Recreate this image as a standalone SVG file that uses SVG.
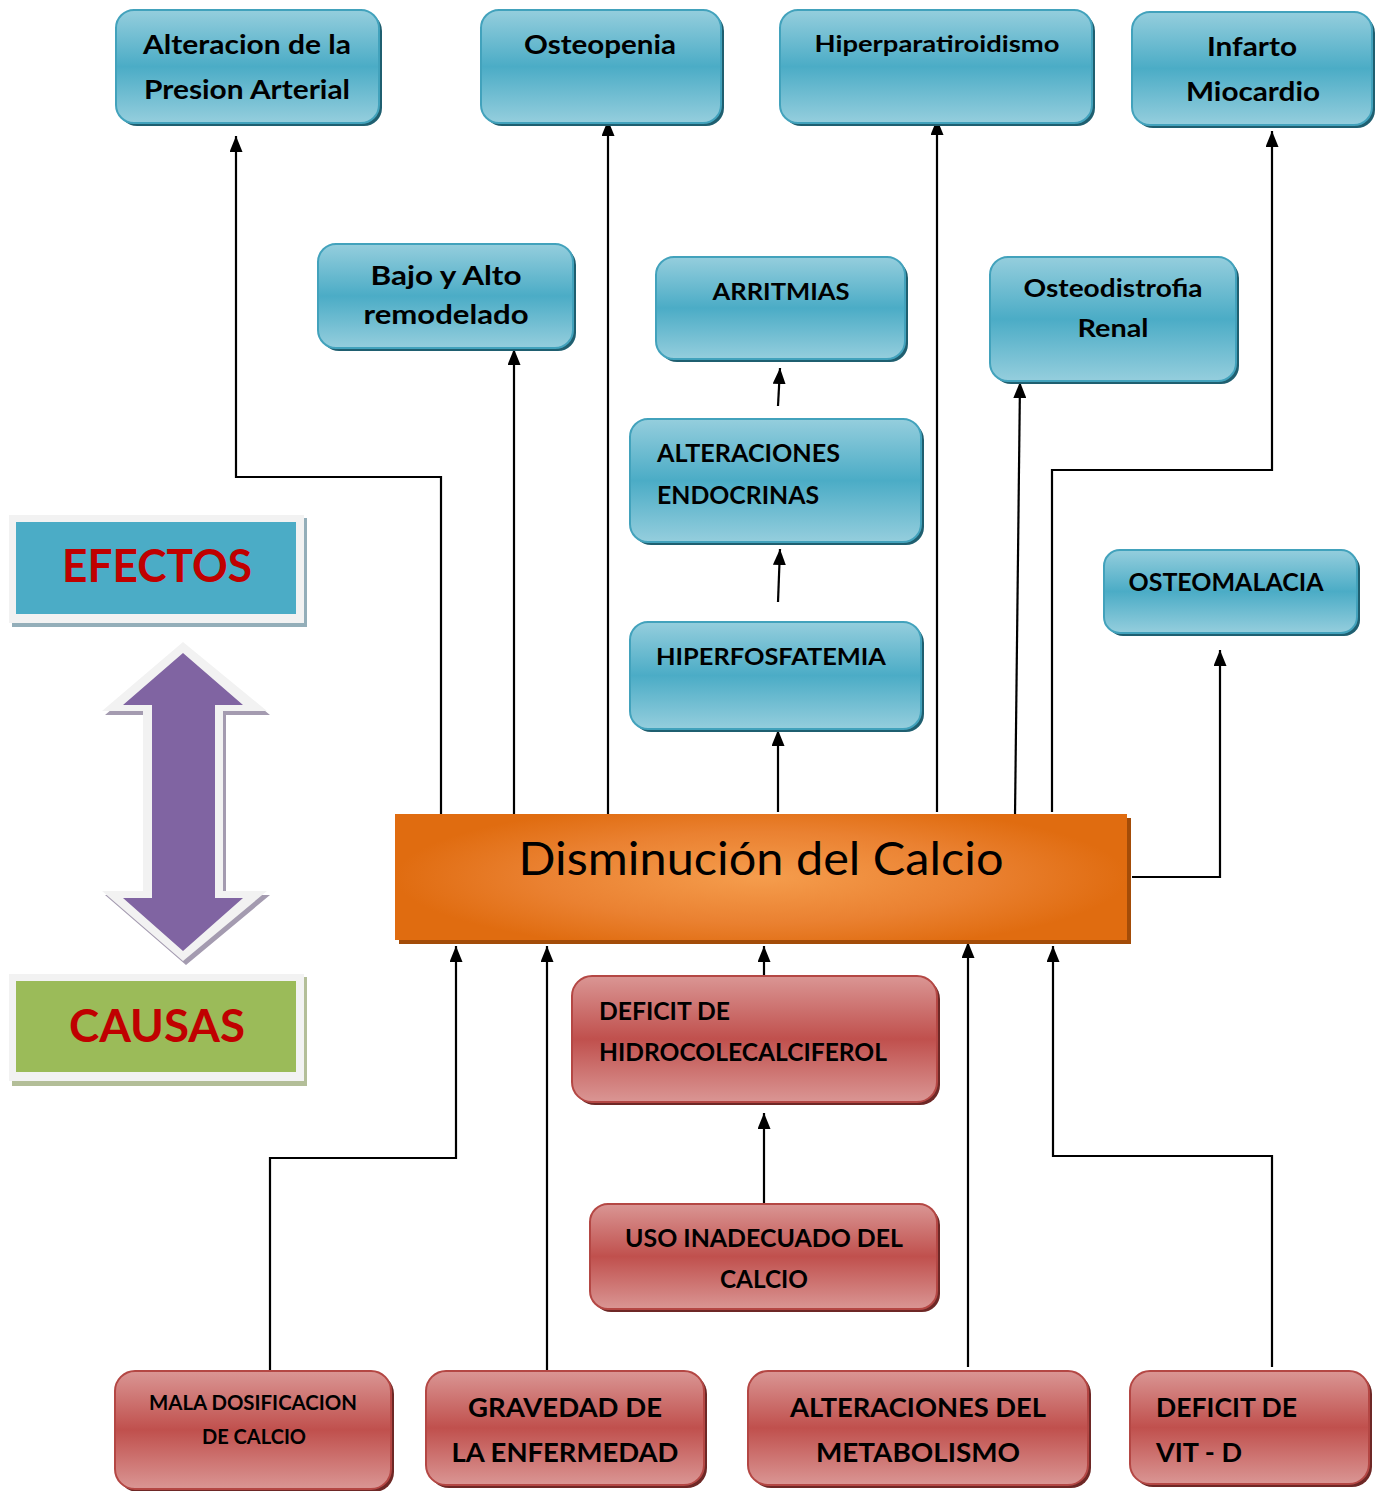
<svg xmlns="http://www.w3.org/2000/svg" width="1378" height="1491" viewBox="0 0 1378 1491">
<defs>
<linearGradient id="gBlue" x1="0" y1="0" x2="0" y2="1">
<stop offset="0" stop-color="#95CEDD"/><stop offset="0.5" stop-color="#4BACC6"/><stop offset="1" stop-color="#95CEDD"/>
</linearGradient>
<linearGradient id="gRed" x1="0" y1="0" x2="0" y2="1">
<stop offset="0" stop-color="#DA9694"/><stop offset="0.5" stop-color="#C0504D"/><stop offset="1" stop-color="#DA9694"/>
</linearGradient>
<radialGradient id="gOrange" cx="0.5" cy="0.5" r="0.5" gradientTransform="translate(0.5 0.5) scale(1 1.2) translate(-0.5 -0.5)">
<stop offset="0" stop-color="#F59D4D"/><stop offset="0.6" stop-color="#EA8131"/><stop offset="1" stop-color="#E06C10"/>
</radialGradient>
<marker id="ah" viewBox="0 0 16 13" refX="16" refY="6.5" markerWidth="16" markerHeight="13" orient="auto" markerUnits="userSpaceOnUse">
<path d="M0,0 L16,6.5 L0,13 z" fill="#000"/>
</marker>
<style>
.bs{fill:#1F5F70}
.b{fill:url(#gBlue);stroke:#42A2BC;stroke-width:2}
.rs{fill:#6E2826}
.r{fill:url(#gRed);stroke:#B44744;stroke-width:2}
.t{font-family:Lato,"Open Sans","Liberation Sans",sans-serif;font-weight:700;fill:#000}
.c{text-anchor:middle}
.conn path{fill:none;stroke:#000;stroke-width:2.2;marker-end:url(#ah)}
</style>
</defs>
<rect width="1378" height="1491" fill="#fff"/>

<g id="legend-efectos">
<rect x="12" y="518" width="295" height="109" fill="#93AEB9"/>
<rect x="9" y="515" width="295" height="108" fill="#F2F2F2"/>
<rect x="16" y="522" width="280" height="92" fill="#4BACC6"/>
<text x="157" y="582" class="c" font-family="Lato,'Open Sans',sans-serif" font-weight="700" font-size="46" fill="#C00000" textLength="190" lengthAdjust="spacingAndGlyphs">EFECTOS</text>
</g>
<g id="legend-causas">
<rect x="12" y="977" width="295" height="109" fill="#B3BE98"/>
<rect x="9" y="974" width="295" height="107" fill="#F2F2F2"/>
<rect x="16" y="981" width="280" height="91" fill="#9BBB59"/>
<text x="157" y="1042" class="c" font-family="Lato,'Open Sans',sans-serif" font-weight="700" font-size="46" fill="#C00000" textLength="176" lengthAdjust="spacingAndGlyphs">CAUSAS</text>
</g>
<g id="double-arrow">
<polygon points="186,646 270,715 226,715 226,895 270,895 186,965 105,895 146,895 146,715 105,715" fill="#A49BB0"/>
<polygon points="183,642 267,711 223,711 223,891 267,891 183,961 102,891 143,891 143,711 102,711" fill="#F2F2F2"/>
<polygon points="183,653 243,705 215,705 215,898 243,898 183,951 123,898 152,898 152,705 123,705" fill="#8064A2"/>
</g>

<g class="conn" id="connectors">
<path d="M441,816 V477 H236 V136"/>
<path d="M514,816 V349"/>
<path d="M608,816 V120"/>
<path d="M778,812 V730"/>
<path d="M778,602 L780,549"/>
<path d="M778,406 L780,368"/>
<path d="M937,812 V119"/>
<path d="M1015,816 L1020,382"/>
<path d="M1052,812 V470 H1272 V131"/>
<path d="M1132,877 H1220 V650"/>
<path d="M270,1371 V1158 H456 V946"/>
<path d="M547,1371 V946"/>
<path d="M764,976 V946"/>
<path d="M764,1204 V1113"/>
<path d="M968,1367 V942"/>
<path d="M1272,1367 V1156 H1053 V946"/>
</g>

<g id="main">
<rect x="399" y="818" width="732" height="126" fill="#A34C08"/>
<rect x="395" y="814" width="732" height="126" fill="url(#gOrange)"/>
<text x="761" y="875" class="c" font-family="Lato,'Open Sans',sans-serif" font-size="46" fill="#000" textLength="485" lengthAdjust="spacingAndGlyphs">Disminución del Calcio</text>
</g>

<g id="n-alteracion-presion">
<rect x="119" y="13" width="263" height="113" rx="18" class="bs"/>
<rect x="116" y="10" width="263" height="113" rx="18" class="b"/>
<text class="t c" x="247" y="54" font-size="26" textLength="208" lengthAdjust="spacingAndGlyphs">Alteracion de la</text>
<text class="t c" x="247" y="99" font-size="26" textLength="206" lengthAdjust="spacingAndGlyphs">Presion Arterial</text>
</g>
<g id="n-osteopenia">
<rect x="484" y="13" width="240" height="113" rx="18" class="bs"/>
<rect x="481" y="10" width="240" height="113" rx="18" class="b"/>
<text class="t c" x="600" y="54" font-size="26" textLength="152" lengthAdjust="spacingAndGlyphs">Osteopenia</text>
</g>
<g id="n-hiperparatiroidismo">
<rect x="783" y="13" width="312" height="113" rx="18" class="bs"/>
<rect x="780" y="10" width="312" height="113" rx="18" class="b"/>
<text class="t c" x="937" y="52" font-size="23" textLength="245" lengthAdjust="spacingAndGlyphs">Hiperparatiroidismo</text>
</g>
<g id="n-infarto">
<rect x="1135" y="15" width="240" height="113" rx="18" class="bs"/>
<rect x="1132" y="12" width="240" height="113" rx="18" class="b"/>
<text class="t c" x="1252" y="56" font-size="26" textLength="90" lengthAdjust="spacingAndGlyphs">Infarto</text>
<text class="t c" x="1253" y="101" font-size="26" textLength="134" lengthAdjust="spacingAndGlyphs">Miocardio</text>
</g>
<g id="n-bajo-alto">
<rect x="321" y="247" width="255" height="104" rx="18" class="bs"/>
<rect x="318" y="244" width="255" height="104" rx="18" class="b"/>
<text class="t c" x="446" y="285" font-size="26" textLength="151" lengthAdjust="spacingAndGlyphs">Bajo y Alto</text>
<text class="t c" x="446" y="324" font-size="26" textLength="165" lengthAdjust="spacingAndGlyphs">remodelado</text>
</g>
<g id="n-arritmias">
<rect x="659" y="260" width="249" height="102" rx="18" class="bs"/>
<rect x="656" y="257" width="249" height="102" rx="18" class="b"/>
<text class="t c" x="781" y="300" font-size="23" textLength="137" lengthAdjust="spacingAndGlyphs">ARRITMIAS</text>
</g>
<g id="n-osteodistrofia">
<rect x="993" y="260" width="246" height="124" rx="18" class="bs"/>
<rect x="990" y="257" width="246" height="124" rx="18" class="b"/>
<text class="t c" x="1113" y="297" font-size="24" textLength="179" lengthAdjust="spacingAndGlyphs">Osteodistrofia</text>
<text class="t c" x="1113" y="337" font-size="24" textLength="71" lengthAdjust="spacingAndGlyphs">Renal</text>
</g>
<g id="n-alteraciones-endocrinas">
<rect x="633" y="422" width="291" height="123" rx="18" class="bs"/>
<rect x="630" y="419" width="291" height="123" rx="18" class="b"/>
<text class="t" x="657" y="462" font-size="24" textLength="183" lengthAdjust="spacingAndGlyphs">ALTERACIONES</text>
<text class="t" x="657" y="504" font-size="24" textLength="162" lengthAdjust="spacingAndGlyphs">ENDOCRINAS</text>
</g>
<g id="n-hiperfosfatemia">
<rect x="633" y="625" width="291" height="107" rx="18" class="bs"/>
<rect x="630" y="622" width="291" height="107" rx="18" class="b"/>
<text class="t" x="656" y="665" font-size="23" textLength="230" lengthAdjust="spacingAndGlyphs">HIPERFOSFATEMIA</text>
</g>
<g id="n-osteomalacia">
<rect x="1107" y="553" width="253" height="83" rx="16" class="bs"/>
<rect x="1104" y="550" width="253" height="83" rx="16" class="b"/>
<text class="t c" x="1226" y="591" font-size="24" textLength="195" lengthAdjust="spacingAndGlyphs">OSTEOMALACIA</text>
</g>

<g id="n-deficit-hidro">
<rect x="575" y="979" width="365" height="126" rx="20" class="rs"/>
<rect x="572" y="976" width="365" height="126" rx="20" class="r"/>
<text class="t" x="599" y="1020" font-size="24" textLength="131" lengthAdjust="spacingAndGlyphs">DEFICIT DE</text>
<text class="t" x="599" y="1061" font-size="24" textLength="288" lengthAdjust="spacingAndGlyphs">HIDROCOLECALCIFEROL</text>
</g>
<g id="n-uso-inadecuado">
<rect x="593" y="1207" width="347" height="105" rx="18" class="rs"/>
<rect x="590" y="1204" width="347" height="105" rx="18" class="r"/>
<text class="t c" x="764" y="1247" font-size="24" textLength="278" lengthAdjust="spacingAndGlyphs">USO INADECUADO DEL</text>
<text class="t c" x="764" y="1288" font-size="24" textLength="88" lengthAdjust="spacingAndGlyphs">CALCIO</text>
</g>
<g id="n-mala-dosificacion">
<rect x="118" y="1374" width="276" height="118" rx="20" class="rs"/>
<rect x="115" y="1371" width="276" height="118" rx="20" class="r"/>
<text class="t c" x="253" y="1410" font-size="20" textLength="208" lengthAdjust="spacingAndGlyphs">MALA DOSIFICACION</text>
<text class="t c" x="254" y="1444" font-size="20" textLength="104" lengthAdjust="spacingAndGlyphs">DE CALCIO</text>
</g>
<g id="n-gravedad">
<rect x="429" y="1374" width="278" height="114" rx="20" class="rs"/>
<rect x="426" y="1371" width="278" height="114" rx="20" class="r"/>
<text class="t c" x="565" y="1417" font-size="27" textLength="194" lengthAdjust="spacingAndGlyphs">GRAVEDAD DE</text>
<text class="t c" x="565" y="1462" font-size="27" textLength="227" lengthAdjust="spacingAndGlyphs">LA ENFERMEDAD</text>
</g>
<g id="n-alteraciones-metabolismo">
<rect x="751" y="1374" width="340" height="114" rx="20" class="rs"/>
<rect x="748" y="1371" width="340" height="114" rx="20" class="r"/>
<text class="t c" x="918" y="1417" font-size="27" textLength="256" lengthAdjust="spacingAndGlyphs">ALTERACIONES DEL</text>
<text class="t c" x="918" y="1462" font-size="27" textLength="204" lengthAdjust="spacingAndGlyphs">METABOLISMO</text>
</g>
<g id="n-deficit-vitd">
<rect x="1133" y="1374" width="239" height="113" rx="20" class="rs"/>
<rect x="1130" y="1371" width="239" height="113" rx="20" class="r"/>
<text class="t" x="1156" y="1417" font-size="27" textLength="141" lengthAdjust="spacingAndGlyphs">DEFICIT DE</text>
<text class="t" x="1156" y="1462" font-size="27" textLength="86" lengthAdjust="spacingAndGlyphs">VIT - D</text>
</g>
</svg>
